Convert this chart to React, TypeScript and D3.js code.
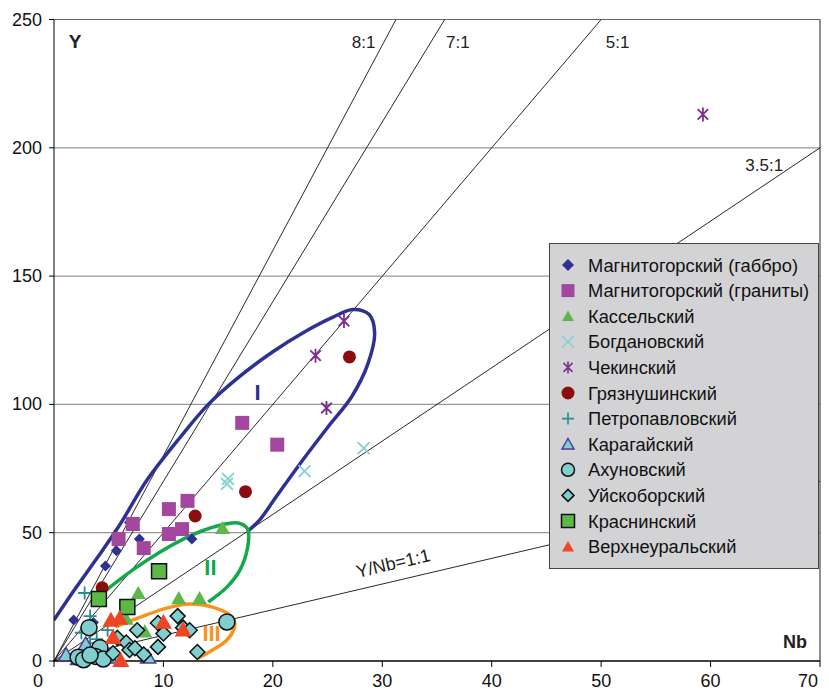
import React, { useEffect, useRef } from 'react';
import * as d3 from 'd3';

type Pt = [number, number];

// --- data (Nb, Y) ---
const magGabbro: Pt[] = [[1.8, 16], [3.6, 15], [3.9, 24.5], [4.7, 37], [5.7, 43], [6.9, 54], [7.8, 47.5], [12.6, 47.5]];
const magGranite: Pt[] = [[5.9, 47.5], [7.2, 53.4], [8.2, 44], [10.5, 59.2], [10.5, 49.5], [11.7, 51.4], [12.2, 62.4], [17.2, 92.8], [20.4, 84.3]];
const kassel: Pt[] = [[6.6, 16.5], [7.7, 26.5], [8.3, 11.5], [11.4, 24.5], [13.3, 24.5], [15.4, 51.8]];
const bogdan: Pt[] = [[15.8, 69], [15.9, 71], [22.9, 74], [28.3, 83]];
const chekin: Pt[] = [[23.9, 119], [24.9, 98.6], [26.5, 132.5], [59.3, 213]];
const gryaz: Pt[] = [[4.4, 28.5], [12.9, 56.5], [17.5, 66], [27, 118.5]];
const petro: Pt[] = [[2.8, 26.5], [3.3, 17.5], [2.5, 11], [3.9, 8.5], [4.9, 12], [3.3, 7], [4.3, 4.5]];
const karagai: Pt[] = [[1.1, 2.4], [2.2, 1], [2.9, 6.6], [3, 2.5], [3.9, 3], [5.1, 1.6], [8.6, 1.6]];
const akhun: Pt[] = [[3.2, 13], [4.2, 5.2], [2.2, 1.5], [2.7, 0.5], [3.8, 1.8], [4.5, 0.8], [3.3, 2.3], [15.8, 15.2]];
const uisk: Pt[] = [[5.4, 3], [5.8, 9], [6.6, 7.2], [6.9, 4.3], [7.4, 5], [7.6, 12], [8.2, 2.5], [9.5, 14.8], [9.5, 5.5], [10, 10.7], [11.3, 17.5], [11.8, 13], [12.4, 12], [13.1, 3.5]];
const krasn: Pt[] = [[4.1, 24.2], [6.7, 21], [9.6, 35]];
const verkh: Pt[] = [[5.2, 16], [6, 16.8], [5.4, 9.3], [6.1, 0.3], [10, 15.2], [11.8, 12.2]];

const series = [
  { name: 'Магнитогорский (габбро)', data: magGabbro, marker: 'diamond', size: 11, fill: '#2E3192', stroke: 'none' },
  { name: 'Магнитогорский (граниты)', data: magGranite, marker: 'square', size: 14, fill: '#A3479E', stroke: 'none' },
  { name: 'Кассельский', data: kassel, marker: 'triangle', size: 15, fill: '#5EB848', stroke: 'none' },
  { name: 'Богдановский', data: bogdan, marker: 'x', size: 12, fill: 'none', stroke: '#86D0D0' },
  { name: 'Чекинский', data: chekin, marker: 'asterisk', size: 14, fill: 'none', stroke: '#7E2C8E' },
  { name: 'Грязнушинский', data: gryaz, marker: 'circle', size: 13, fill: '#8B0D0D', stroke: 'none' },
  { name: 'Петропавловский', data: petro, marker: 'plus', size: 13, fill: 'none', stroke: '#2A8C8C' },
  { name: 'Карагайский', data: karagai, marker: 'triangle', size: 15, fill: '#80CFCF', stroke: '#4B3A9E' },
  { name: 'Ахуновский', data: akhun, marker: 'circle', size: 16, fill: '#7FCFCF', stroke: '#111' },
  { name: 'Уйскоборский', data: uisk, marker: 'diamond', size: 15, fill: '#7FCFCF', stroke: '#111' },
  { name: 'Краснинский', data: krasn, marker: 'square', size: 15, fill: '#5DB946', stroke: '#111' },
  { name: 'Верхнеуральский', data: verkh, marker: 'triangle', size: 17, fill: '#EE4526', stroke: 'none' },
];

// reference ratio lines from origin, end point in data units
const ratioLines = [
  { label: '8:1', end: [31.25, 250] as Pt, at: [28.3, 241] as Pt, rot: 0 },
  { label: '7:1', end: [35.7, 250] as Pt, at: [36.9, 241] as Pt, rot: 0 },
  { label: '5:1', end: [50, 250] as Pt, at: [51.5, 241] as Pt, rot: 0 },
  { label: '3.5:1', end: [70, 200] as Pt, at: [64.9, 193] as Pt, rot: 0 },
  { label: 'Y/Nb=1:1', end: [70, 70] as Pt, at: [31, 38] as Pt, rot: -13.2 },
];

// hand-drawn field outlines
const fieldI: Pt[] = [[0, 16], [2, 28.5], [4, 40.5], [6, 53], [8.5, 70.5], [11.5, 87], [14.1, 100], [17, 111], [20, 120.5], [23, 128.5], [25.5, 134], [27.3, 137], [28.8, 135], [29.3, 128], [28.7, 116], [27.2, 103], [25, 91], [22.5, 77], [20.3, 64], [18.8, 55], [17.7, 50.5]];
const fieldII: Pt[] = [[4.8, 27.7], [7.2, 35.5], [9.7, 42.5], [12.2, 48.3], [14.9, 52.6], [16.8, 53.8], [17.7, 51.4], [17.7, 44.4], [17, 35.5], [15.8, 28.8], [14.1, 23]];
const fieldIII: Pt[] = [[5.6, 13.3], [7.9, 17.1], [10.3, 20.6], [12.4, 22.2], [14.5, 21], [16.3, 17.1], [16.5, 13.3], [15.8, 8.2], [14.5, 4.3], [13.2, 1.2]];
const fields = [
  { label: 'I', pts: fieldI, color: '#2E3192', at: [18.6, 104.8] as Pt },
  { label: 'II', pts: fieldII, color: '#12A84B', at: [14.3, 36.6] as Pt },
  { label: 'III', pts: fieldIII, color: '#F7931E', at: [14.4, 10.9] as Pt },
];

const xTicks = [0, 10, 20, 30, 40, 50, 60, 70];
const yTicks = [0, 50, 100, 150, 200, 250];

const FONT = 'Liberation Sans, Arial, sans-serif';

function markerPath(type: string, s: number): string {
  const h = s / 2;
  switch (type) {
    case 'diamond': return `M0,${-h}L${h},0L0,${h}L${-h},0Z`;
    case 'square': return `M${-h},${-h}H${h}V${h}H${-h}Z`;
    case 'triangle': return `M0,${-h * 0.95}L${h},${h * 0.8}L${-h},${h * 0.8}Z`;
    case 'circle': return d3.symbol(d3.symbolCircle, Math.PI * h * h)() || '';
    case 'x': return `M${-h},${-h}L${h},${h}M${-h},${h}L${h},${-h}`;
    case 'plus': return `M${-h},0H${h}M0,${-h}V${h}`;
    case 'asterisk': return `M${-h * 0.75},${-h * 0.75}L${h * 0.75},${h * 0.75}M${-h * 0.75},${h * 0.75}L${h * 0.75},${-h * 0.75}M0,${-h}V${h}`;
  }
  return '';
}

const App = () => {
  const svgRef = useRef<SVGSVGElement>(null);

  useEffect(() => {
    const W = 829, H = 691;
    const svg = d3.select(svgRef.current);
    svg.selectAll('*').remove();
    svg.attr('width', W).attr('height', H);

    const x = d3.scaleLinear().domain([0, 70]).range([54, 820]);
    const y = d3.scaleLinear().domain([0, 250]).range([661, 19.5]);

    svg.append('defs').append('clipPath').attr('id', 'plot')
      .append('rect').attr('x', x(0)).attr('y', y(250)).attr('width', x(70) - x(0)).attr('height', y(0) - y(250));

    // gridlines
    svg.append('g').selectAll('line').data(yTicks.filter(d => d > 0)).enter().append('line')
      .attr('x1', x(0)).attr('x2', x(70)).attr('y1', d => y(d)).attr('y2', d => y(d))
      .attr('stroke', d => d === 250 ? '#666' : '#999').attr('stroke-width', 1.2);

    // right border
    svg.append('line').attr('x1', x(70)).attr('x2', x(70)).attr('y1', y(250)).attr('y2', y(0))
      .attr('stroke', '#222').attr('stroke-width', 1);

    // ratio lines
    const plot = svg.append('g').attr('clip-path', 'url(#plot)');
    plot.selectAll('.ratio').data(ratioLines).enter().append('line')
      .attr('x1', x(0)).attr('y1', y(0)).attr('x2', d => x(d.end[0])).attr('y2', d => y(d.end[1]))
      .attr('stroke', '#111').attr('stroke-width', 0.9);

    svg.selectAll('.rlabel').data(ratioLines).enter().append('text')
      .attr('transform', d => `translate(${x(d.at[0])},${y(d.at[1])}) rotate(${d.rot})`)
      .attr('text-anchor', 'middle').attr('dominant-baseline', 'central')
      .style('font-family', FONT).style('font-size', d => d.rot ? '18px' : '17px').attr('fill', '#222')
      .text(d => d.label);

    // axes
    svg.append('line').attr('x1', x(0)).attr('x2', x(0)).attr('y1', y(250)).attr('y2', y(0)).attr('stroke', '#000');
    svg.append('line').attr('x1', x(0) - 1).attr('x2', x(70)).attr('y1', y(0)).attr('y2', y(0)).attr('stroke', '#000').attr('stroke-width', 1.5);
    svg.append('g').selectAll('line').data(yTicks).enter().append('line')
      .attr('x1', x(0) - 5).attr('x2', x(0)).attr('y1', d => y(d)).attr('y2', d => y(d)).attr('stroke', '#000');
    svg.append('g').selectAll('line').data(xTicks).enter().append('line')
      .attr('x1', d => x(d)).attr('x2', d => x(d)).attr('y1', y(0)).attr('y2', y(0) + 6).attr('stroke', '#000');
    svg.append('g').selectAll('text').data(yTicks).enter().append('text')
      .attr('x', x(0) - 12).attr('y', d => y(d)).attr('text-anchor', 'end').attr('dominant-baseline', 'central')
      .style('font-family', FONT).style('font-size', '18px').attr('fill', '#111').text(d => d);
    svg.append('g').selectAll('text').data(xTicks).enter().append('text')
      .attr('x', d => x(d) + (d === 0 ? -16 : d === 70 ? -12 : 0)).attr('y', 687)
      .attr('text-anchor', 'middle')
      .style('font-family', FONT).style('font-size', '18px').attr('fill', '#111').text(d => d);

    svg.append('text').attr('x', 75).attr('y', 41).attr('text-anchor', 'middle').attr('dominant-baseline', 'central')
      .style('font-family', FONT).style('font-size', '19px').style('font-weight', 'bold').attr('fill', '#222').text('Y');
    svg.append('text').attr('x', 795).attr('y', 642).attr('text-anchor', 'middle').attr('dominant-baseline', 'central')
      .style('font-family', FONT).style('font-size', '18px').style('font-weight', 'bold').attr('fill', '#222').text('Nb');

    // fields
    const line = d3.line<Pt>().x(d => x(d[0])).y(d => y(d[1])).curve(d3.curveCatmullRom);
    plot.selectAll('.field').data(fields).enter().append('path')
      .attr('d', d => line(d.pts)).attr('fill', 'none').attr('stroke', d => d.color).attr('stroke-width', 3.5);
    svg.selectAll('.flabel').data(fields).enter().append('text')
      .attr('x', d => x(d.at[0])).attr('y', d => y(d.at[1])).attr('text-anchor', 'middle').attr('dominant-baseline', 'central')
      .style('font-family', FONT).style('font-size', '22px').style('font-weight', 'bold').attr('fill', d => d.color)
      .text(d => d.label);

    // markers
    series.forEach(s => {
      const g = svg.append('g');
      g.selectAll('path').data(s.data).enter().append('path')
        .attr('transform', d => `translate(${x(d[0])},${y(d[1])})`)
        .attr('d', markerPath(s.marker, s.size))
        .attr('fill', s.fill).attr('stroke', s.stroke)
        .attr('stroke-width', s.fill === 'none' ? 1.8 : 1.5);
    });

    // legend
    const lg = svg.append('g');
    lg.append('rect').attr('x', 549.5).attr('y', 243.5).attr('width', 269).attr('height', 325)
      .attr('fill', '#D3D3D5').attr('stroke', '#444').attr('stroke-width', 1);
    const items = lg.selectAll('.li').data(series).enter().append('g')
      .attr('transform', (d, i) => `translate(568,${265 + i * 25.6})`);
    items.append('path').attr('d', d => markerPath(d.marker, d.marker === 'circle' || d.marker === 'square' ? 13 : 12))
      .attr('fill', d => d.fill).attr('stroke', d => d.stroke).attr('stroke-width', d => d.fill === 'none' ? 1.6 : 1.5);
    items.append('text').attr('x', 20).attr('y', 0).attr('dominant-baseline', 'central')
      .style('font-family', FONT).style('font-size', '18.3px').attr('fill', '#111').text(d => d.name);
  }, []);

  return (
    <div style={{ position: 'absolute', left: 0, top: 0 }}>
      <svg ref={svgRef}></svg>
    </div>
  );
};

export default App;
